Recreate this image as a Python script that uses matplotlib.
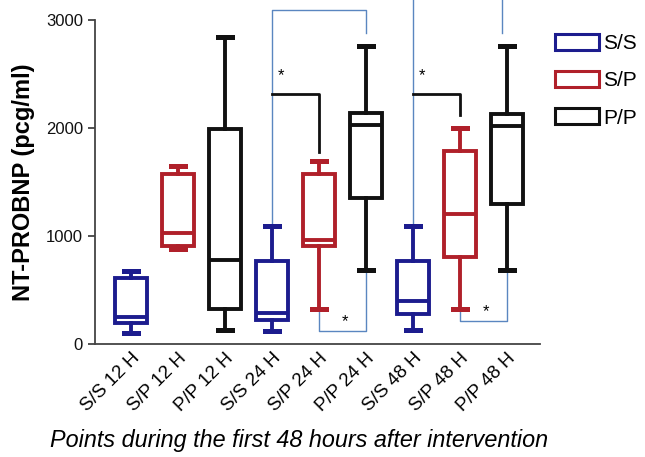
import matplotlib
matplotlib.use("Agg")
import matplotlib.pyplot as plt
from matplotlib.patches import Patch

plt.rcParams['font.family'] = ['Liberation Sans', 'DejaVu Sans']

# NT-proBNP summary per group and time point
labels = ['S/S 12 H', 'S/P 12 H', 'P/P 12 H',
          'S/S 24 H', 'S/P 24 H', 'P/P 24 H',
          'S/S 48 H', 'S/P 48 H', 'P/P 48 H']
groups = ['S/S', 'S/P', 'P/P'] * 3
whislo = [105, 885, 130, 120, 325, 690, 130, 325, 690]
q1 = [200, 905, 325, 225, 905, 1350, 275, 805, 1295]
med = [250, 1030, 780, 285, 965, 2025, 400, 1205, 2015]
q3 = [615, 1575, 1995, 765, 1575, 2140, 770, 1790, 2135]
whishi = [675, 1650, 2840, 1090, 1695, 2760, 1090, 2000, 2760]

# significance brackets: heights of the connecting lines
top_level = [3090, 3300]
top_drop = [2880, 2880]
mid_level = [2320, 2320]
mid_drop = [1780, 2120]
low_level = [120, 210]

colors = {'S/S': '#1c1c8e', 'S/P': '#b0202a', 'P/P': '#111111'}
link_color = '#5a86c0'

fig = plt.figure(figsize=(6.45, 4.57), dpi=100)
ax = fig.add_axes([0.147, 0.247, 0.69, 0.709])

stats = []
for i in range(len(labels)):
    stats.append(dict(whislo=whislo[i], q1=q1[i], med=med[i], q3=q3[i],
                      whishi=whishi[i], label=labels[i], fliers=[]))

pos = list(range(1, len(labels) + 1))
for i, s in enumerate(stats):
    c = colors[groups[i]]
    ax.bxp([s], positions=[pos[i]], widths=0.7, capwidths=0.3,
           showfliers=False, patch_artist=True,
           boxprops=dict(facecolor='white', edgecolor=c, linewidth=2.8),
           whiskerprops=dict(color=c, linewidth=2.8),
           capprops=dict(color=c, linewidth=3.6),
           medianprops=dict(color=c, linewidth=2.8))

# brackets for 24 H (k=0) and 48 H (k=1)
for k in range(2):
    a = 3 * k + 3   # S/S index
    b = a + 1       # S/P index
    c = a + 2       # P/P index
    xa, xb, xc = pos[a], pos[b], pos[c]
    xt = xc - 0.1 * k
    ax.plot([xa, xa, xt, xt], [whishi[a], top_level[k], top_level[k], top_drop[k]],
            color=link_color, lw=1.0, clip_on=False, zorder=1)
    ax.plot([xa, xb, xb], [mid_level[k], mid_level[k], mid_drop[k]],
            color='#111111', lw=2.0, clip_on=False, zorder=3)
    ax.text(xa + 0.2, mid_level[k] + 170, '*', ha='center', va='center', fontsize=12)
    ax.plot([xb, xb, xc, xc], [whislo[b], low_level[k], low_level[k], whislo[c]],
            color=link_color, lw=1.0, clip_on=False, zorder=1)
    ax.text((xb + xc) / 2 + 0.05, low_level[k] + 90, '*', ha='center', va='center',
            fontsize=12)

ax.set_xlim(0.23, 9.7)
ax.set_ylim(0, 3000)
ax.set_yticks([0, 1000, 2000, 3000])
ax.tick_params(axis='y', labelsize=12, length=5, width=1.2, colors='#333333',
               labelcolor='#111111')
ax.tick_params(axis='x', length=0, labelsize=13.5, pad=4)
ax.set_xticks(pos)
ax.set_xticklabels(labels, rotation=45, ha='right', rotation_mode='anchor')
ax.spines['top'].set_visible(False)
ax.spines['right'].set_visible(False)
ax.spines['left'].set_color('#444444')
ax.spines['bottom'].set_color('#444444')
ax.spines['left'].set_linewidth(1.3)
ax.spines['bottom'].set_linewidth(1.3)

ax.set_ylabel('NT-PROBNP (pcg/ml)', fontsize=17, fontweight='bold', labelpad=8)
ax.set_xlabel('Points during the first 48 hours after intervention',
              fontsize=16.8, style='italic')
ax.xaxis.set_label_coords(0.46, -0.262)

handles = [Patch(facecolor='white', edgecolor=colors[g], linewidth=2.2, label=g)
           for g in ['S/S', 'S/P', 'P/P']]
fig.legend(handles=handles, loc='upper left', bbox_to_anchor=(0.861, 0.926),
           frameon=False, fontsize=15, handlelength=2.1, handleheight=0.8,
           handletextpad=0.2, labelspacing=0.87, borderpad=0, borderaxespad=0)

fig.savefig('out.png', dpi=100)
